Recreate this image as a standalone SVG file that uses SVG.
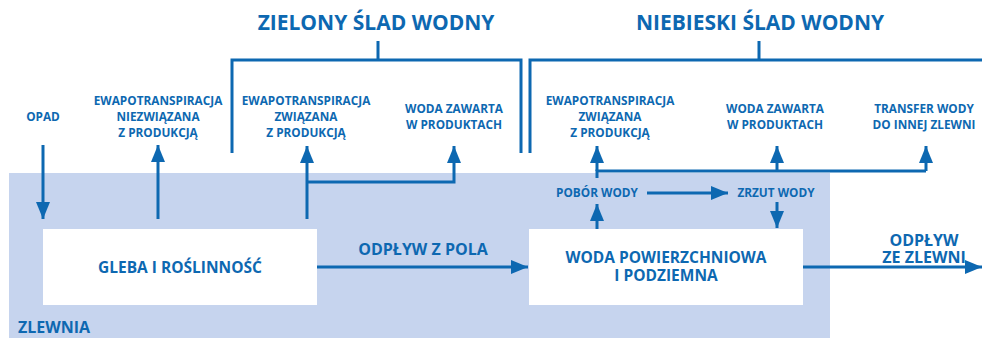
<svg xmlns="http://www.w3.org/2000/svg" width="982" height="338" viewBox="0 0 982 338">
  <style>
    text { font-family: "Open Sans", "Liberation Sans", sans-serif; font-weight: 700; fill: #0d68b1; text-anchor: middle; }
    .title { font-size: 21px; }
    .lbl { font-size: 11.8px; }
    .small { font-size: 11.8px; }
    .box-txt { font-size: 15.5px; }
    .flow { font-size: 16px; }
    .line { fill: none; stroke: #0d68b1; stroke-width: 3; }
    .arrow { fill: none; stroke: #0d68b1; stroke-width: 3; marker-end: url(#head); }
    .box { fill: #ffffff; }
  </style>
  <defs>
    <marker id="head" markerUnits="userSpaceOnUse" markerWidth="18" markerHeight="14" refX="17" refY="7" orient="auto">
      <path d="M0,0 L17,7 L0,14 Z" fill="#0d68b1"/>
    </marker>
  </defs>

  <rect width="982" height="338" fill="#ffffff"/>

  <!-- catchment area -->
  <g id="zlewnia">
    <rect x="9" y="173" width="821" height="170" fill="#c6d4ee"/>
    <text x="18" y="333" class="flow" style="text-anchor:start">ZLEWNIA</text>
  </g>

  <!-- footprint brackets -->
  <g id="zielony">
    <path class="line" d="M232,153 V60 H521 V153 M378,41 V60"/>
    <text x="376" y="30" class="title">ZIELONY ŚLAD WODNY</text>
  </g>
  <g id="niebieski">
    <path class="line" d="M530,153 V60 H990 M759,41 V60"/>
    <text x="760" y="30" class="title">NIEBIESKI ŚLAD WODNY</text>
  </g>

  <!-- labels above catchment -->
  <g id="opad"><text x="43" y="121" class="lbl">OPAD</text></g>
  <g id="ewapo-niezwiazana">
    <text x="158" y="105" class="lbl">EWAPOTRANSPIRACJA</text>
    <text x="158" y="121" class="lbl">NIEZWIĄZANA</text>
    <text x="158" y="137" class="lbl">Z PRODUKCJĄ</text>
  </g>
  <g id="ewapo-zielona">
    <text x="306" y="105" class="lbl">EWAPOTRANSPIRACJA</text>
    <text x="306" y="121" class="lbl">ZWIĄZANA</text>
    <text x="306" y="137" class="lbl">Z PRODUKCJĄ</text>
  </g>
  <g id="woda-zielona">
    <text x="454" y="113" class="lbl">WODA ZAWARTA</text>
    <text x="454" y="129" class="lbl">W PRODUKTACH</text>
  </g>
  <g id="ewapo-niebieska">
    <text x="610" y="105" class="lbl">EWAPOTRANSPIRACJA</text>
    <text x="610" y="121" class="lbl">ZWIĄZANA</text>
    <text x="610" y="137" class="lbl">Z PRODUKCJĄ</text>
  </g>
  <g id="woda-niebieska">
    <text x="775" y="113" class="lbl">WODA ZAWARTA</text>
    <text x="775" y="129" class="lbl">W PRODUKTACH</text>
  </g>
  <g id="transfer">
    <text x="924" y="113" class="lbl">TRANSFER WODY</text>
    <text x="924" y="129" class="lbl">DO INNEJ ZLEWNI</text>
  </g>

  <!-- boxes -->
  <g id="gleba">
    <rect class="box" x="43" y="229" width="274" height="76"/>
    <text x="180" y="273" class="box-txt">GLEBA I ROŚLINNOŚĆ</text>
  </g>
  <g id="woda-pow">
    <rect class="box" x="529" y="229" width="274" height="76"/>
    <text x="666" y="263" class="box-txt">WODA POWIERZCHNIOWA</text>
    <text x="666" y="281" class="box-txt">I PODZIEMNA</text>
  </g>
  <g id="pobor"><text x="597" y="197" class="small">POBÓR WODY</text></g>
  <g id="zrzut"><text x="776" y="197" class="small">ZRZUT WODY</text></g>

  <!-- connectors -->
  <g id="connectors">
    <path class="arrow" d="M43,145 V219"/>
    <path class="arrow" d="M158,219 V145"/>
    <path class="arrow" d="M307,219 V146"/>
    <path class="arrow" d="M307,182 H454 V146"/>
    <path class="arrow" d="M317,267 H528"/>
    <text x="423" y="255" class="flow">ODPŁYW Z POLA</text>
    <path class="arrow" d="M803,267 H982"/>
    <text x="924" y="246" class="flow">ODPŁYW</text>
    <text x="924" y="263" class="flow">ZE ZLEWNI</text>
    <path class="arrow" d="M597,229 V204"/>
    <path class="line" d="M597,178 V171 H926"/>
    <path class="arrow" d="M597,171 V146"/>
    <path class="arrow" d="M777,171 V146"/>
    <path class="arrow" d="M926,171 V146"/>
    <path class="arrow" d="M647,193 H728"/>
    <path class="arrow" d="M777,202 V228"/>
  </g>
</svg>
